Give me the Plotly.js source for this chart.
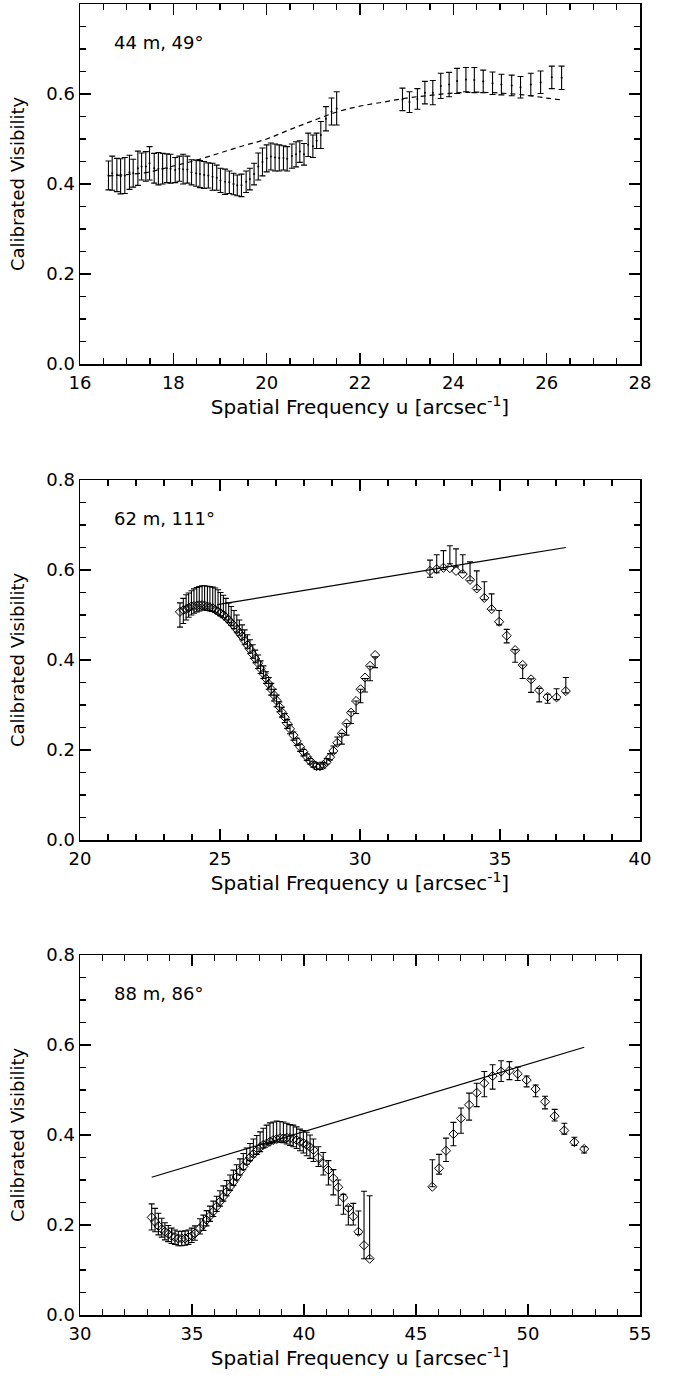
<!DOCTYPE html>
<html>
<head>
<meta charset="utf-8">
<script src="https://cdn.plot.ly/plotly-3.0.1.min.js"></script>
<style>
  html, body { margin: 0; padding: 0; background: #fff; }
  #chart { width: 676px; height: 1378px; }
</style>
</head>
<body>
<div id="chart"></div>
<script>
// ---------------- Panel 1: 44 m, 49 deg ----------------
const p1Label = "44 m, 49°";
const p1U = [16.61,16.69,16.79,16.87,16.96,17.06,17.14,17.24,17.32,17.41,
  17.49,17.59,17.68,17.77,17.86,17.94,18.04,18.13,18.21,18.30,
  18.39,18.49,18.57,18.66,18.75,18.84,18.93,19.01,19.11,19.20,
  19.29,19.37,19.46,19.56,19.64,19.73,19.82,19.91,20.00,20.09,
  20.18,20.27,20.36,20.44,20.54,20.63,20.71,20.80,20.89,20.99,
  21.07,21.16,21.27,21.39,21.50,
  22.91,23.06,23.23,23.39,23.56,23.73,23.91,24.08,24.27,24.45,
  24.64,24.84,25.03,25.25,25.44,25.66,25.87,26.11,26.32];
const p1V = [0.419,0.424,0.420,0.417,0.419,0.426,0.424,0.435,0.439,0.439,
  0.446,0.435,0.434,0.434,0.435,0.434,0.431,0.434,0.433,0.432,
  0.426,0.424,0.422,0.420,0.419,0.416,0.414,0.408,0.405,0.404,
  0.400,0.397,0.397,0.405,0.411,0.422,0.439,0.449,0.457,0.461,
  0.459,0.458,0.458,0.456,0.462,0.466,0.472,0.466,0.487,0.484,
  0.496,0.509,0.545,0.561,0.568,
  0.588,0.582,0.589,0.603,0.603,0.618,0.621,0.629,0.632,0.631,
  0.628,0.624,0.621,0.619,0.615,0.621,0.626,0.637,0.636];
const p1Err = [0.032,0.038,0.037,0.039,0.040,0.038,0.031,0.038,0.030,0.033,
  0.037,0.033,0.036,0.034,0.032,0.032,0.028,0.028,0.033,0.030,
  0.028,0.029,0.030,0.030,0.028,0.030,0.028,0.027,0.028,0.025,
  0.024,0.023,0.025,0.024,0.024,0.024,0.030,0.031,0.030,0.030,
  0.030,0.029,0.027,0.027,0.027,0.028,0.024,0.024,0.026,0.025,
  0.017,0.030,0.027,0.030,0.037,
  0.025,0.023,0.023,0.025,0.027,0.028,0.027,0.028,0.027,0.028,
  0.025,0.025,0.023,0.023,0.024,0.025,0.025,0.025,0.026];
const p1ModelU = [16.6,17.0,17.5,18.0,18.5,19.0,19.5,20.0,20.5,21.0,21.5,22.0,22.5,23.0,23.5,24.0,24.5,25.0,25.5,26.0,26.3];
const p1ModelV = [0.418,0.421,0.427,0.440,0.453,0.469,0.485,0.500,0.521,0.541,0.560,0.573,0.582,0.591,0.597,0.602,0.604,0.602,0.598,0.591,0.587];

// ---------------- Panel 2: 62 m, 111 deg ----------------
const p2Label = "62 m, 111°";
const p2U = [23.57,23.69,23.79,23.88,23.98,24.07,24.17,24.26,24.36,24.45,
  24.55,24.64,24.74,24.83,24.93,25.02,25.12,25.21,25.31,25.40,
  25.50,25.60,25.69,25.79,25.88,25.98,26.07,26.17,26.26,26.36,
  26.45,26.55,26.64,26.74,26.83,26.93,27.02,27.12,27.21,27.31,
  27.40,27.50,27.62,27.74,27.86,27.98,28.10,28.21,28.33,28.45,
  28.57,28.69,28.81,28.93,29.05,29.19,29.35,29.52,29.68,29.86,
  30.02,30.18,30.36,30.54,
  32.50,32.74,32.98,33.21,33.43,33.67,33.93,34.17,34.44,34.70,
  34.97,35.24,35.54,35.81,36.11,36.40,36.70,37.02,37.35];
const p2DiamondV = [0.507,0.511,0.513,0.516,0.519,0.520,0.521,0.522,0.522,0.521,
  0.519,0.517,0.515,0.512,0.508,0.504,0.500,0.495,0.489,0.483,
  0.476,0.468,0.460,0.452,0.443,0.433,0.424,0.413,0.403,0.393,
  0.381,0.370,0.359,0.347,0.335,0.322,0.310,0.296,0.284,0.273,
  0.259,0.247,0.233,0.220,0.207,0.196,0.185,0.176,0.169,0.164,
  0.164,0.167,0.173,0.184,0.198,0.216,0.237,0.259,0.283,0.309,
  0.335,0.361,0.387,0.411,
  0.598,0.602,0.605,0.604,0.598,0.591,0.578,0.559,0.538,0.513,
  0.485,0.454,0.422,0.389,0.357,0.333,0.318,0.317,0.331];
const p2BarV = [0.500,0.509,0.517,0.522,0.527,0.531,0.534,0.536,0.538,0.538,
  0.537,0.536,0.535,0.533,0.529,0.524,0.519,0.513,0.505,0.498,
  0.490,0.481,0.472,0.462,0.451,0.441,0.430,0.419,0.408,0.396,
  0.384,0.373,0.361,0.348,0.335,0.322,0.309,0.296,0.284,0.271,
  0.258,0.246,0.231,0.218,0.205,0.194,0.184,0.175,0.168,0.164,
  0.163,0.166,0.175,0.185,0.201,0.220,0.225,0.246,0.272,0.295,
  0.320,0.344,0.370,0.395,
  0.603,0.614,0.622,0.634,0.627,0.614,0.597,0.577,0.554,0.529,
  0.494,0.453,0.409,0.374,0.343,0.322,0.314,0.324,0.344];
const p2BarErr = [0.027,0.028,0.028,0.027,0.027,0.027,0.027,0.027,0.027,0.027,
  0.027,0.027,0.027,0.027,0.027,0.026,0.025,0.024,0.022,0.021,
  0.020,0.019,0.017,0.016,0.016,0.015,0.015,0.015,0.014,0.015,
  0.014,0.014,0.013,0.013,0.013,0.013,0.013,0.011,0.011,0.010,
  0.010,0.010,0.009,0.008,0.008,0.007,0.007,0.006,0.006,0.007,
  0.006,0.006,0.006,0.007,0.008,0.009,0.012,0.013,0.013,0.014,
  0.015,0.015,0.016,0.012,
  0.019,0.020,0.021,0.020,0.020,0.020,0.021,0.021,0.020,0.018,
  0.016,0.015,0.014,0.015,0.015,0.015,0.010,0.012,0.017];
const p2LineU = [24.9, 37.35];
const p2LineV = [0.523, 0.650];

// ---------------- Panel 3: 88 m, 86 deg ----------------
const p3Label = "88 m, 86°";
const p3U = [33.20,33.35,33.50,33.65,33.79,33.94,34.09,34.24,34.39,34.54,34.69,34.84,34.99,35.13,
  35.36,35.51,35.65,35.80,35.95,36.10,36.25,36.40,36.55,36.70,
  36.85,36.99,37.14,37.29,37.44,37.59,37.74,37.89,38.04,38.18,
  38.33,38.48,38.63,38.78,38.93,39.08,39.23,39.38,39.52,39.67,
  39.82,39.97,40.12,40.27,40.42,
  40.64,40.86,41.09,41.31,41.53,41.76,41.98,42.20,42.43,
  42.68,42.93,
  45.73,46.03,46.34,46.67,47.01,47.37,47.71,48.05,48.42,48.80,
  49.17,49.54,49.94,50.34,50.76,51.19,51.62,52.07,52.51];
const p3DiamondV = [0.217,0.207,0.198,0.191,0.185,0.180,0.176,0.173,0.170,0.170,0.170,0.173,0.176,0.181,
  0.193,0.201,0.211,0.220,0.230,0.241,0.252,0.263,0.274,0.285,
  0.296,0.307,0.319,0.330,0.341,0.350,0.358,0.365,0.373,0.378,
  0.381,0.385,0.389,0.391,0.393,0.393,0.394,0.393,0.391,0.389,
  0.385,0.382,0.378,0.373,0.367,
  0.350,0.337,0.322,0.304,0.284,0.261,0.238,0.219,0.185,
  0.155,0.125,
  0.285,0.326,0.365,0.402,0.437,0.467,0.494,0.515,0.531,0.541,
  0.543,0.536,0.522,0.502,0.474,0.442,0.410,0.384,0.369];
const p3BarV = [0.218,0.211,0.202,0.194,0.186,0.181,0.176,0.173,0.170,0.170,0.171,0.173,0.177,0.182,
  0.197,0.205,0.215,0.225,0.236,0.247,0.259,0.270,0.282,0.294,
  0.305,0.317,0.329,0.341,0.353,0.362,0.371,0.378,0.385,0.393,
  0.400,0.404,0.406,0.408,0.407,0.406,0.403,0.400,0.398,0.394,
  0.389,0.385,0.380,0.374,0.366,
  0.352,0.336,0.316,0.295,0.272,0.246,0.221,0.224,0.205,
  0.200,0.195,
  0.315,0.335,0.367,0.402,0.432,0.463,0.489,0.513,0.529,0.542,
  0.543,0.536,0.519,0.498,0.472,0.444,0.414,0.386,0.367];
const p3BarErr = [0.029,0.026,0.024,0.021,0.019,0.018,0.017,0.016,0.016,0.016,0.016,0.016,0.016,0.016,
  0.017,0.017,0.017,0.017,0.017,0.017,0.017,0.017,0.017,0.017,
  0.017,0.017,0.018,0.018,0.018,0.019,0.020,0.021,0.022,0.022,
  0.022,0.023,0.023,0.023,0.023,0.023,0.023,0.023,0.024,0.024,
  0.024,0.025,0.026,0.026,0.025,
  0.022,0.025,0.027,0.028,0.028,0.022,0.021,0.024,0.026,
  0.075,0.070,
  0.030,0.022,0.026,0.026,0.028,0.030,0.026,0.028,0.027,0.023,
  0.020,0.015,0.012,0.013,0.014,0.013,0.012,0.009,0.007];
const p3LineU = [33.2, 52.51];
const p3LineV = [0.306, 0.595];

// ---------------- axis text ----------------
const xTitle = "Spatial Frequency u [arcsec<sup>-1</sup>]";
const yTitle = "Calibrated Visibility";

const FONT = "DejaVu Sans, Liberation Sans, sans-serif";
const FS = 18;
const errStyle = (arr) => ({type: 'data', array: arr, visible: true, color: '#000', thickness: 1.1, width: 3});

const traces = [
  // panel 1
  {x: p1U, y: p1V, xaxis: 'x', yaxis: 'y', type: 'scatter', mode: 'markers',
   marker: {size: 2, color: '#000'}, error_y: errStyle(p1Err), hoverinfo: 'skip'},
  {x: p1ModelU, y: p1ModelV, xaxis: 'x', yaxis: 'y', type: 'scatter', mode: 'lines',
   line: {color: '#000', width: 1.2, dash: '5px,4px', shape: 'spline'}},
  // panel 2
  {x: p2U, y: p2BarV, xaxis: 'x2', yaxis: 'y2', type: 'scatter', mode: 'markers',
   marker: {size: 1, color: 'rgba(0,0,0,0)'}, error_y: errStyle(p2BarErr)},
  {x: p2U, y: p2DiamondV, xaxis: 'x2', yaxis: 'y2', type: 'scatter', mode: 'markers',
   marker: {symbol: 'diamond-open', size: 7, color: '#000', line: {width: 1, color: '#000'}}},
  {x: p2LineU, y: p2LineV, xaxis: 'x2', yaxis: 'y2', type: 'scatter', mode: 'lines',
   line: {color: '#000', width: 1.2}},
  // panel 3
  {x: p3U, y: p3BarV, xaxis: 'x3', yaxis: 'y3', type: 'scatter', mode: 'markers',
   marker: {size: 1, color: 'rgba(0,0,0,0)'}, error_y: errStyle(p3BarErr)},
  {x: p3U, y: p3DiamondV, xaxis: 'x3', yaxis: 'y3', type: 'scatter', mode: 'markers',
   marker: {symbol: 'diamond-open', size: 7, color: '#000', line: {width: 1, color: '#000'}}},
  {x: p3LineU, y: p3LineV, xaxis: 'x3', yaxis: 'y3', type: 'scatter', mode: 'lines',
   line: {color: '#000', width: 1.2}}
];

function xAxis(range, dtick, minorDtick, anchor) {
  return {
    range: range, dtick: dtick, tick0: 0, anchor: anchor,
    ticks: 'inside', ticklen: 11, tickwidth: 1.2, tickcolor: '#000',
    showline: true, linecolor: '#000', linewidth: 1.5, mirror: 'ticks',
    showgrid: false, zeroline: false,
    minor: {ticks: 'inside', dtick: minorDtick, ticklen: 6, tickwidth: 1.2, tickcolor: '#000', showgrid: false},
    tickfont: {family: FONT, size: FS, color: '#000'},
    ticklabelstandoff: 2,
    title: {text: xTitle, font: {family: FONT, size: 20, color: '#000'}, standoff: 2}
  };
}
function yAxis(domain, anchor) {
  return {
    range: [0, 0.8], dtick: 0.2, tick0: 0, tickformat: '.1f', domain: domain, anchor: anchor,
    ticks: 'inside', ticklen: 11, tickwidth: 1.2, tickcolor: '#000',
    showline: true, linecolor: '#000', linewidth: 1.5, mirror: 'ticks',
    showgrid: false, zeroline: false,
    minor: {ticks: 'inside', dtick: 0.05, ticklen: 6, tickwidth: 1.2, tickcolor: '#000', showgrid: false},
    tickfont: {family: FONT, size: FS, color: '#000'},
    title: {text: yTitle, font: {family: FONT, size: FS, color: '#000'}, standoff: 17}
  };
}

const H = 1378, T = 4, B = 63, PH = H - T - B;
const dom = (top, bottom) => [(1315 - bottom) / PH, (1315 - top) / PH];

const labelAnn = (text, xref, yref) => ({
  text: text, xref: xref, yref: yref, x: 0.057, y: 0.892, xanchor: 'left', yanchor: 'middle',
  showarrow: false, font: {family: FONT, size: FS, color: '#000'}
});

const layout = {
  width: 676, height: H,
  margin: {l: 80, r: 36, t: T, b: B},
  paper_bgcolor: '#fff', plot_bgcolor: '#fff',
  showlegend: false,
  font: {family: FONT, color: '#000'},
  xaxis: xAxis([16, 28], 2, 0.5, 'y'),
  yaxis: yAxis(dom(4, 364), 'x'),
  xaxis2: xAxis([20, 40], 5, 1, 'y2'),
  yaxis2: yAxis(dom(480, 840), 'x2'),
  xaxis3: xAxis([30, 55], 5, 1, 'y3'),
  yaxis3: yAxis(dom(955, 1315), 'x3'),
  annotations: [
    labelAnn(p1Label, 'x domain', 'y domain'),
    labelAnn(p2Label, 'x2 domain', 'y2 domain'),
    labelAnn(p3Label, 'x3 domain', 'y3 domain')
  ]
};

Plotly.newPlot('chart', traces, layout, {staticPlot: true, displayModeBar: false});
</script>
</body>
</html>
